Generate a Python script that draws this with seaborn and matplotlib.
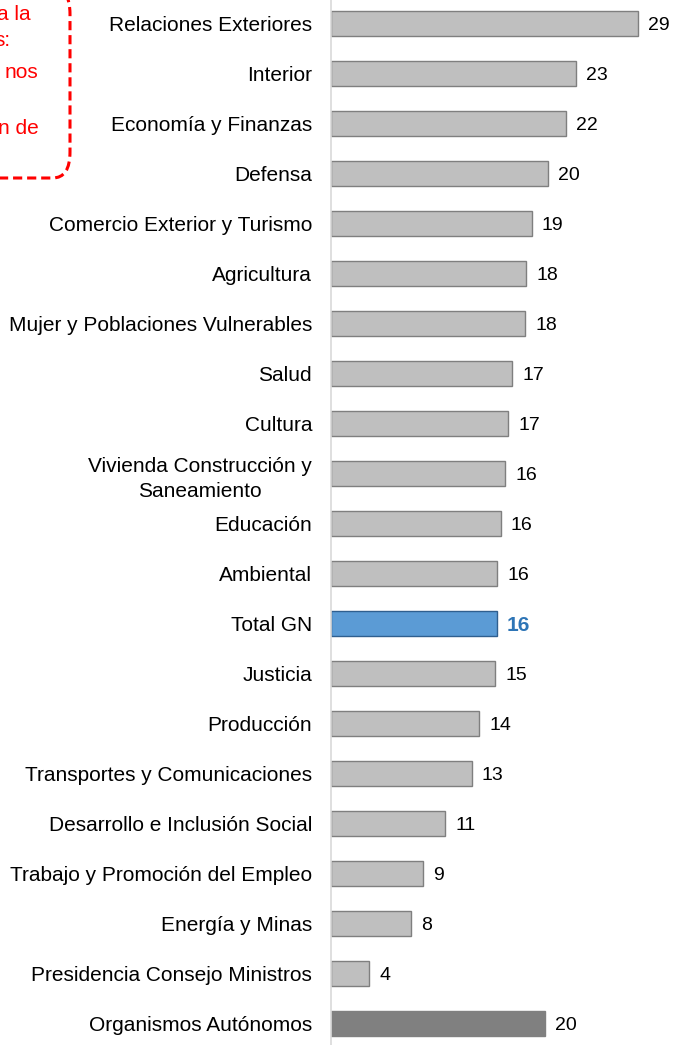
import matplotlib
matplotlib.use("Agg")
import matplotlib.pyplot as plt
from matplotlib.patches import FancyBboxPatch
import seaborn as sns

# data
categories = [
    "Relaciones Exteriores", "Interior", "Economía y Finanzas", "Defensa",
    "Comercio Exterior y Turismo", "Agricultura", "Mujer y Poblaciones Vulnerables",
    "Salud", "Cultura", "Vivienda Construcción y\nSaneamiento", "Educación",
    "Ambiental", "Total GN", "Justicia", "Producción",
    "Transportes y Comunicaciones", "Desarrollo e Inclusión Social",
    "Trabajo y Promoción del Empleo", "Energía y Minas",
    "Presidencia Consejo Ministros", "Organismos Autónomos",
]
values = [28.7, 22.9, 22.0, 20.3, 18.8, 18.3, 18.2, 17.0, 16.6, 16.3, 15.9,
          15.6, 15.55, 15.4, 13.9, 13.2, 10.7, 8.6, 7.5, 3.6, 20.0]
labels = ["29", "23", "22", "20", "19", "18", "18", "17", "17", "16", "16",
          "16", "16", "15", "14", "13", "11", "9", "8", "4", "20"]
note_fragments = ["a la", "s:", "nos", "", "n de"]

sns.set_style("white")
plt.rcParams["font.family"] = ["Liberation Sans", "DejaVu Sans"]

GRAY = "#bfbfbf"
BLUE = "#5b9bd5"
DARK = "#808080"
fill = {c: GRAY for c in categories}
fill["Total GN"] = BLUE
fill["Organismos Autónomos"] = DARK

fig = plt.figure(figsize=(6.92, 10.45), dpi=100)
ax = fig.add_axes([330.5 / 692, 0, 361.5 / 692, 1])

sns.barplot(x=values, y=categories, hue=categories, palette=fill,
            saturation=1, legend=False, width=0.5, orient="h", ax=ax)

for bar, cat in zip(ax.patches, categories):
    if cat == "Total GN":
        bar.set_edgecolor("#2f5f8f")
    elif cat == "Organismos Autónomos":
        bar.set_edgecolor(DARK)
    else:
        bar.set_edgecolor("#7f7f7f")
    bar.set_linewidth(1.0)

for i, (v, lab, cat) in enumerate(zip(values, labels, categories)):
    if cat == "Total GN":
        ax.text(v + 0.95, i, lab, va="center_baseline", ha="left", fontsize=15,
                fontweight="bold", color="#2e75b6")
    else:
        ax.text(v + 0.95, i, lab, va="center_baseline", ha="left",
                fontsize=14, color="black")

ax.set_xlim(0, 361.5 / 10.7)
ax.set_ylim(20.44, -0.48)
ax.set_xlabel("")
ax.set_ylabel("")
ax.set_xticks([])
ax.tick_params(axis="y", length=0, pad=13.3, labelsize=15, colors="black")
for lbl in ax.get_yticklabels():
    lbl.set_multialignment("center")
    lbl.set_linespacing(1.4)

for side in ["top", "right", "bottom"]:
    ax.spines[side].set_visible(False)
ax.spines["left"].set_color("#d9d9d9")
ax.spines["left"].set_linewidth(1.2)

# red dashed note box, cut off by the figure edge as in the original
box = FancyBboxPatch((-150 / 692, 1 - 178 / 1045), 220 / 692, 190 / 1045,
                     boxstyle="round,pad=0,rounding_size=0.025",
                     transform=fig.transFigure, facecolor="none",
                     edgecolor="#ff0000", linewidth=2.2,
                     linestyle=(0, (3, 1.6)))
fig.patches.append(box)
note_x = [31, 11, 38, 38, 39]
note_y = [15, 41, 72, 100, 128]
for frag, x, y in zip(note_fragments, note_x, note_y):
    fig.text(x / 692, 1 - y / 1045, frag, ha="right", va="center",
             fontsize=15, color="#ff0000")

fig.savefig("out.png", dpi=100)
